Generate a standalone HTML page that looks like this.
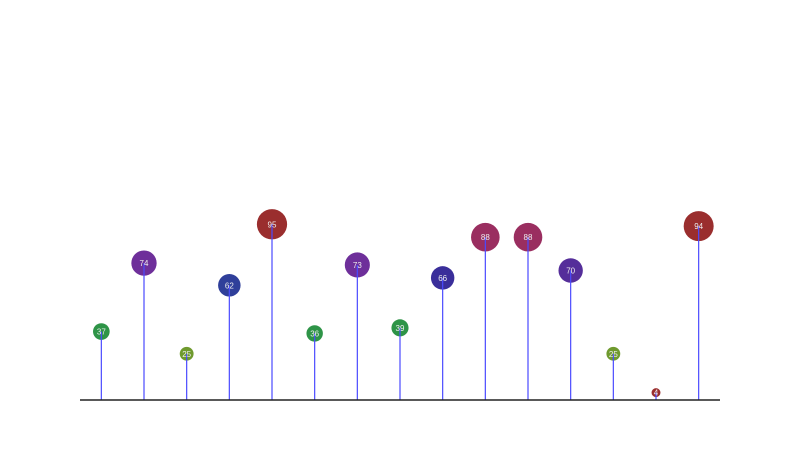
<!DOCTYPE html>
<html><head><meta charset="utf-8"><style>
html,body{margin:0;padding:0;background:#fff;width:800px;height:450px;overflow:hidden}
svg{display:block;font-family:"Liberation Sans",sans-serif}
</style></head><body>
<svg id="chart" width="800" height="450"></svg>
<script>
const categories = ["a","b","c","d","e","f","g","h","i","j","k","l","m","n","o"];
const values = [37,74,25,62,95,36,73,39,66,88,88,70,25,4,94];
const colors = ["#2e9447","#6e2f9a","#6f9a2e","#2f3f9a","#9a2e2e","#2e9447","#6e2f9a","#2e9447","#3a2e9a","#9a2e60","#9a2e60","#552e9a","#6f9a2e","#9a2e2e","#9a2e2e"];
const NS="http://www.w3.org/2000/svg";
const svg=document.getElementById('chart');
const x0=80,x1=720,base=400;
const band=(x1-x0)/categories.length;
const xs=i=>x0+band*(i+0.5);
const ys=v=>base-v*1.85;
const rs=v=>4+v*0.117;
function mk(t,a){const e=document.createElementNS(NS,t);for(const k in a)e.setAttribute(k,a[k]);return e;}
values.forEach((v,i)=>{
  const g=mk('g',{});
  
  
  const c=mk('circle',{cx:xs(i),cy:ys(v),r:rs(v),fill:colors[i]});
  
  
  const l=mk('line',{x1:xs(i),x2:xs(i),y1:base,y2:ys(v),stroke:'#4a4aff','stroke-width':1.2});
  
  
  const t=mk('text',{x:xs(i),y:ys(v)+3,'text-anchor':'middle','font-size':8,fill:'#eee'});
  t.textContent=v;
  
  
  g.appendChild(c);g.appendChild(l);g.appendChild(t);svg.appendChild(g);
});
const ax=mk('line',{x1:x0,x2:x1,y1:base,y2:base,stroke:'#222','stroke-width':1.5});


svg.appendChild(ax);
</script>
</body></html>
